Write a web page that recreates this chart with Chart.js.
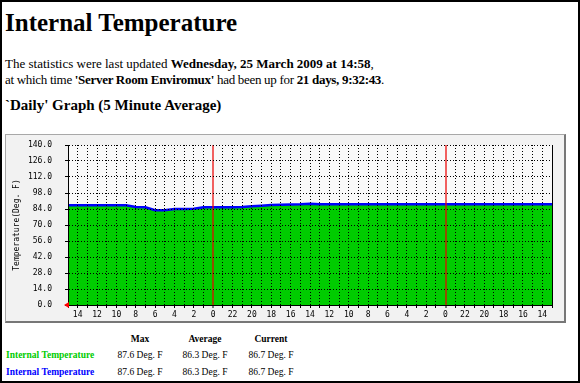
<!DOCTYPE html>
<html>
<head>
<meta charset="utf-8">
<script src="https://cdn.jsdelivr.net/npm/chart.js@4.4.1/dist/chart.umd.min.js"></script>
<style>
  html, body { margin:0; padding:0; }
  body { width:580px; height:383px; box-sizing:border-box; border:2px solid #000; position:relative; overflow:hidden; background:#fff; font-family:"Liberation Serif","Times New Roman",serif; color:#000; }
  .t { position:absolute; white-space:nowrap; line-height:1; }
  #title { left:3px; top:8px; font-size:25px; font-weight:bold; }
  #l1 { left:3px; top:55px; font-size:13px; }
  #l2 { left:3px; top:71px; font-size:13px; letter-spacing:-0.3px; }
  #h2 { left:3px; top:96px; font-size:15px; font-weight:bold; }
  #panel { position:absolute; left:3px; top:132px; width:561px; height:189px; box-sizing:border-box; background:#f2f2f2; border-top:1px solid #a8a8a8; border-left:1px solid #a8a8a8; border-right:2px solid #777; border-bottom:2px solid #777; }
  #panel canvas { position:absolute; left:0; top:0; }
  .c { position:absolute; font-size:9.5px; line-height:1; white-space:nowrap; text-align:center; width:80px; }
  .lab { position:absolute; left:4px; font-size:9.5px; line-height:1; font-weight:bold; white-space:nowrap; }
</style>
</head>
<body>
<div class="t" id="title">Internal Temperature</div>
<div class="t" id="l1">The statistics were last updated <b>Wednesday, 25 March 2009 at 14:58</b>,</div>
<div class="t" id="l2">at which time <b>'Server Room Enviromux'</b> had been up for <b>21 days, 9:32:43</b>.</div>
<div class="t" id="h2">`Daily' Graph (5 Minute Average)</div>
<div id="panel"><canvas id="chart" width="558" height="186"></canvas></div>
<div id="legend"></div>
<script>
// Hours of day shown along the x axis (newest on the left, 5-minute data summarised hourly)
const hourOfDay = ['15','14','13','12','11','10','9','8','7','6','5','4','3','2','1','0',
  '23','22','21','20','19','18','17','16','15','14','13','12','11','10','9','8','7','6','5','4','3','2','1','0',
  '23','22','21','20','19','18','17','16','15','14','13'];
// Internal temperature (Deg. F), one reading per hour
const internalTemp = [87.3,87.3,87.3,87.3,87.3,87.3,87.3,85.8,85.5,83.0,
  83.0,83.9,83.9,84.2,85.5,85.5,85.5,85.6,85.8,86.3,
  86.9,87.5,87.8,88.0,88.1,88.6,88.1,88.1,88.1,88.1,
  88.1,88.1,88.1,88.1,88.1,88.1,88.1,88.1,88.1,88.1,
  88.1,88.1,88.1,88.1,88.1,88.1,88.1,88.1,88.1,88.1,88.1];
const yMin = 0, yMax = 140, yStep = 14;
// Summary table
const statHeaders = ['Max','Average','Current'];
const seriesNames = ['Internal Temperature','Internal Temperature'];
const seriesColors = ['#00cc00','#0000ff'];
const statValues = [['87.6 Deg. F','86.3 Deg. F','86.7 Deg. F'],['87.6 Deg. F','86.3 Deg. F','86.7 Deg. F']];

// legend table
(function(){
  const colCenters = [140, 205, 271];
  const rowTops = [333, 349, 366];
  const lg = document.getElementById('legend');
  statHeaders.forEach((h,i)=>{
    const d=document.createElement('div'); d.className='c'; d.style.fontWeight='bold';
    d.style.left=(colCenters[i]-2-40)+'px'; d.style.top=rowTops[0]+'px'; d.textContent=h; lg.appendChild(d);
  });
  seriesNames.forEach((n,r)=>{
    const d=document.createElement('div'); d.className='lab'; d.style.color=seriesColors[r];
    d.style.top=rowTops[r+1]+'px'; d.textContent=n; lg.appendChild(d);
    statValues[r].forEach((v,i)=>{
      const e=document.createElement('div'); e.className='c';
      e.style.left=(colCenters[i]-2-40)+'px'; e.style.top=rowTops[r+1]+'px'; e.textContent=v; lg.appendChild(e);
    });
  });
})();

const isMidnight = i => hourOfDay[i] === '0';
const monoFont = { family: "'DejaVu Sans Mono', monospace", size: 8 };

const plotBg = {
  id: 'plotBg',
  beforeDraw(chart) {
    const { ctx, chartArea: a } = chart;
    ctx.save(); ctx.fillStyle = '#f9f9f9';
    ctx.fillRect(a.left, a.top, a.right - a.left, a.bottom - a.top);
    ctx.restore();
  }
};
const originArrow = {
  id: 'originArrow',
  afterDraw(chart) {
    const { ctx, chartArea: a } = chart;
    ctx.save(); ctx.fillStyle = '#ff0000';
    ctx.beginPath();
    ctx.moveTo(a.left - 4, a.bottom);
    ctx.lineTo(a.left + 1, a.bottom - 3);
    ctx.lineTo(a.left + 1, a.bottom + 3);
    ctx.closePath(); ctx.fill();
    ctx.restore();
  }
};

new Chart(document.getElementById('chart'), {
  type: 'line',
  data: {
    labels: hourOfDay,
    datasets: [
      { label: 'Internal Temperature (line)', data: internalTemp, borderColor: '#0000ff', borderWidth: 2.5,
        pointRadius: 0, fill: false, tension: 0, order: 1 },
      { label: 'Internal Temperature (area)', data: internalTemp, borderColor: '#00cc00', borderWidth: 0,
        backgroundColor: '#00cc00', pointRadius: 0, fill: 'origin', tension: 0, order: 2 }
    ]
  },
  options: {
    responsive: false,
    animation: false,
    devicePixelRatio: 1,
    layout: { padding: { left: 0, right: 12, top: 10, bottom: 0 } },
    plugins: { legend: { display: false }, tooltip: { enabled: false }, title: { display: false } },
    scales: {
      x: {
        type: 'category',
        offset: false,
        grid: {
          z: 1,
          offset: false,
          color: c => isMidnight(c.index) ? 'rgba(235,0,0,0.62)' : '#000',
          lineWidth: c => isMidnight(c.index) ? 2 : 1,
          drawTicks: true, tickLength: 3, tickColor: '#000', tickWidth: 1
        },
        border: { z: 1, display: true, color: '#000', width: 1,
          dash: c => (isMidnight(c.index) || c.index === hourOfDay.length - 1) ? [] : [1, 2] },
        ticks: {
          z: 1,
          autoSkip: false, maxRotation: 0, minRotation: 0, padding: 2, color: '#000', font: monoFont,
          callback: (v, i) => (Number(hourOfDay[i]) % 2 === 0 ? hourOfDay[i] : '')
        },
        afterFit: s => { s.height = 16; s.paddingLeft = 0; s.paddingRight = 0; }
      },
      y: {
        min: yMin, max: yMax,
        grid: { z: 1, color: '#000', lineWidth: 1, drawTicks: true, tickLength: 3, tickColor: '#000' },
        border: { z: 1, display: true, color: '#000', width: 1, dash: [1, 2] },
        ticks: { z: 1, stepSize: yStep, padding: 13, color: '#000', font: monoFont,
          callback: v => Number(v).toFixed(1) },
        title: { display: true, text: 'Temperature(Deg. F)', color: '#000', font: monoFont,
          padding: { top: 6, bottom: 0 } },
        afterFit: s => { s.width = 62; s.paddingTop = 0; s.paddingBottom = 0; }
      }
    }
  },
  plugins: [plotBg, originArrow]
});
</script>
</body>
</html>
